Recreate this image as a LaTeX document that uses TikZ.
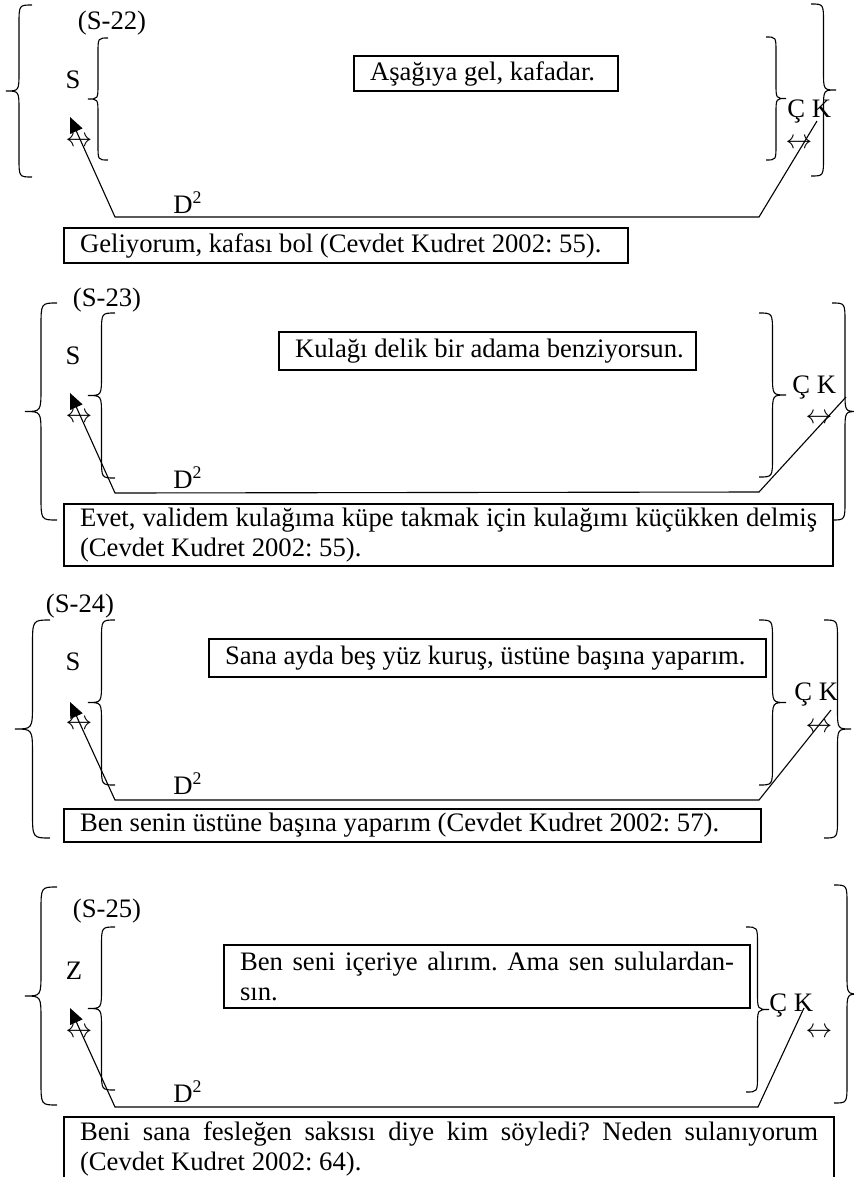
\documentclass[tikz,border=0pt]{standalone}
\usepackage{fontspec}
\setmainfont{Liberation Serif}
\usetikzlibrary{positioning,arrows.meta}
\frenchspacing

% natural interword spaces inside the boxes
\newcommand{\natsp}{\spaceskip=0pt\xspaceskip=0pt\relax}

% curly bracket: end x, tip x, top y, bottom y
\newcommand{\curlybr}[4]{%
  \pgfmathsetmacro{\brcx}{(#1+#2)/2}%
  \pgfmathsetmacro{\brcr}{0.75*abs(#1-#2)}%
  \pgfmathsetmacro{\brcm}{(#3+#4)/2}%
  \draw[brc] (#1,#3) .. controls (\brcx,#3) .. (\brcx,#3+\brcr)
    -- (\brcx,\brcm-\brcr) .. controls (\brcx,\brcm) .. (#2,\brcm)
    .. controls (\brcx,\brcm) .. (\brcx,\brcm+\brcr)
    -- (\brcx,#4-\brcr) .. controls (\brcx,#4) .. (#1,#4);}

\begin{document}
\begin{tikzpicture}[
    x=0.45pt, y=-0.45pt,
    every node/.style={font=\fontsize{12}{13.8}\selectfont, inner sep=0pt},
    txtbox/.style={draw, line width=0.9pt, anchor=north west, align=left, inner xsep=7.2pt, inner ysep=0pt},
    brc/.style={line width=0.5pt},
    lnk/.style={line width=0.5pt, -{Triangle[length=7pt, width=6pt]}}
]
    \path[use as bounding box, clip] (0,0) rectangle (854,1177);

    % (S-22)
    \curlybr{32}{6}{5}{177}
    \node[anchor=base] (no22) at (112,29) {(S-22)};
    \node[anchor=base] (s22) at (73,88) {S};
    \curlybr{108}{88}{38}{160}
    \node[txtbox, text width=104.4pt, minimum height=15.75pt] (q22) at (353,55) {\natsp\mbox{Aşağıya gel, kafadar.}};
    \curlybr{766}{786}{37}{160}
    \node[anchor=base west] (ck22) at (787,117) {Ç K};
    \curlybr{811}{836}{4}{176}
    \node (lr22a) at (79,142) {$\leftrightarrow$};
    \node (lr22b) at (799,144) {$\leftrightarrow$};
    \node[anchor=base west] (d22) at (173,213) {D\textsuperscript{2}};
    \coordinate (s22tip) at (70,117);
    \coordinate (ck22end) at (817,121);
    \coordinate (r22) at (759,217);
    \coordinate (l22) at (115,217);
    \draw[lnk] (ck22end) -- (r22) -- (l22) -- (s22tip);
    \node[txtbox, text width=239.4pt, minimum height=15.75pt] (a22) at (63,227) {\natsp\mbox{Geliyorum, kafası bol (Cevdet Kudret 2002: 55).}};

    % (S-23)
    \curlybr{57}{25}{303}{520}
    \node[anchor=base] (no23) at (107,306) {(S-23)};
    \node[anchor=base] (s23) at (73,364) {S};
    \curlybr{115}{88}{313}{478}
    \node[txtbox, text width=173.25pt, minimum height=17.1pt] (q23) at (278,331) {\natsp\mbox{Kulağı delik bir adama benziyorsun.}};
    \curlybr{759}{786}{313}{477}
    \node[anchor=base west] (ck23) at (792,393) {Ç K};
    \curlybr{832}{858}{303}{520}
    \node (lr23a) at (79,418) {$\leftrightarrow$};
    \node (lr23b) at (819,419) {$\leftrightarrow$};
    \node[anchor=base west] (d23) at (173,488) {D\textsuperscript{2}};
    \coordinate (s23tip) at (70,393);
    \coordinate (ck23end) at (846,397);
    \coordinate (r23) at (759,492);
    \coordinate (l23) at (115,493);
    \draw[lnk] (ck23end) -- (r23) -- (l23) -- (s23tip);
    \node[txtbox, text width=331.65pt, minimum height=27.9pt] (a23) at (63,503) {\natsp\makebox[331.65pt][s]{Evet, validem kulağıma küpe takmak için kulağımı küçükken delmiş}\\(Cevdet Kudret 2002: 55).};

    % (S-24)
    \curlybr{50}{15}{620}{838}
    \node[anchor=base] (no24) at (80,612) {(S-24)};
    \node[anchor=base] (s24) at (73,670) {S};
    \curlybr{115}{88}{620}{785}
    \node[txtbox, text width=236.25pt, minimum height=17.1pt] (q24) at (208,638) {\natsp\mbox{Sana ayda beş yüz kuruş, üstüne başına yaparım.}};
    \curlybr{759}{786}{620}{785}
    \node[anchor=base west] (ck24) at (794,700) {Ç K};
    \curlybr{824}{851}{620}{838}
    \node (lr24a) at (79,725) {$\leftrightarrow$};
    \node (lr24b) at (819,728) {$\leftrightarrow$};
    \node[anchor=base west] (d24) at (173,794) {D\textsuperscript{2}};
    \coordinate (s24tip) at (70,702);
    \coordinate (ck24end) at (831,710);
    \coordinate (r24) at (759,800);
    \coordinate (l24) at (115,800);
    \draw[lnk] (ck24end) -- (r24) -- (l24) -- (s24tip);
    \node[txtbox, text width=299.25pt, minimum height=14.85pt] (a24) at (63,808) {\natsp\mbox{Ben senin üstüne başına yaparım (Cevdet Kudret 2002: 57).}};

    % (S-25)
    \curlybr{57}{25}{887}{1105}
    \node[anchor=base] (no25) at (107,917) {(S-25)};
    \node[anchor=base] (z25) at (74,979) {Z};
    \curlybr{115}{88}{927}{1090}
    \node[txtbox, text width=222.3pt, minimum height=28.35pt] (q25) at (223,944) {\natsp\makebox[222.3pt][s]{Ben seni içeriye alırım. Ama sen sululardan-}\\sın.};
    \curlybr{746}{769}{927}{1092}
    \node[anchor=base west] (ck25) at (769,1011) {Ç K};
    \curlybr{834}{860}{885}{1103}
    \node (lr25a) at (79,1033) {$\leftrightarrow$};
    \node (lr25b) at (819,1033) {$\leftrightarrow$};
    \node[anchor=base west] (d25) at (173,1102) {D\textsuperscript{2}};
    \coordinate (s25tip) at (70,1008);
    \coordinate (ck25end) at (804,1008);
    \coordinate (r25) at (758,1107);
    \coordinate (l25) at (115,1107);
    \draw[lnk] (ck25end) -- (r25) -- (l25) -- (s25tip);
    \node[txtbox, text width=332.1pt, minimum height=28.8pt] (a25) at (63,1116) {\natsp\makebox[332.1pt][s]{Beni sana fesleğen saksısı diye kim söyledi? Neden sulanıyorum}\\(Cevdet Kudret 2002: 64).};
\end{tikzpicture}
\end{document}
